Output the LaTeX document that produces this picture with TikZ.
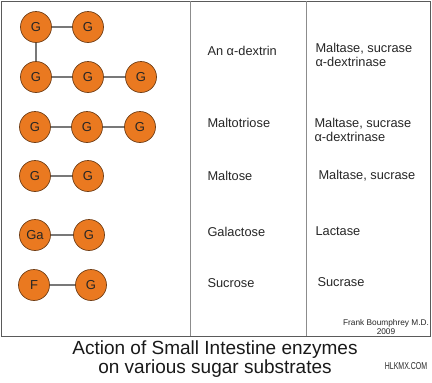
\documentclass[tikz,border=0pt]{standalone}
\usepackage{fontspec}
\setmainfont{Liberation Sans}
\usepackage{tikz}
\usetikzlibrary{positioning}

\definecolor{sugarfill}{RGB}{234,121,32}
\definecolor{sugarrim}{RGB}{112,62,22}
\definecolor{bondgray}{RGB}{120,120,120}
\definecolor{framegray}{RGB}{90,90,90}
\definecolor{rulegray}{RGB}{140,140,140}

\begin{document}
\begin{tikzpicture}[x=1pt,y=-1pt,node distance=52pt,on grid,
    sugar/.style={circle,draw=sugarrim,line width=0.7pt,fill=sugarfill,
      minimum size=31pt,inner sep=0pt,font=\fontsize{13}{13}\selectfont,text=black!85},
    bond/.style={draw=bondgray,line width=1.1pt},
    label/.style={anchor=west,align=left,font=\fontsize{12.8}{14.5}\selectfont,text=black!85}]
   \useasboundingbox (0,0) rectangle (432,383);
   % table frame
   \draw[framegray,line width=0.9pt] (1,1) rectangle (430,336);
   \draw[rulegray,line width=0.9pt] (190,1) -- (190,336);
   \draw[rulegray,line width=0.9pt] (306,1) -- (306,336);
   % sugar chains
   \node[sugar] (a1) at (36,27) {G};
   \node[sugar] (a2) [right=of a1] {G};
   \node[sugar] (b1) at (36,77) {G};
   \node[sugar] (b2) [right=of b1] {G};
   \node[sugar] (b3) [right=53pt of b2] {G};
   \node[sugar] (c1) at (35,127) {G};
   \node[sugar] (c2) [right=of c1] {G};
   \node[sugar] (c3) [right=53pt of c2] {G};
   \node[sugar] (d1) at (35,176) {G};
   \node[sugar] (d2) [right=53pt of d1] {G};
   \node[sugar] (e1) at (35,235) {Ga};
   \node[sugar] (e2) [right=54pt of e1] {G};
   \node[sugar] (f1) at (34,285) {F};
   \node[sugar] (f2) [right=57pt of f1] {G};
   \path[bond]
    (a1) -- (a2)  (a1) -- (b1)
    (b1) -- (b2)  (b2) -- (b3)
    (c1) -- (c2)  (c2) -- (c3)
    (d1) -- (d2)
    (e1) -- (e2)
    (f1) -- (f2);
   % substrate names
   \node[label] (s1) at (204,51) {An α-dextrin};
   \node[label] (s2) at (204,123) {Maltotriose};
   \node[label] (s3) at (204,176) {Maltose};
   \node[label] (s4) at (204,232) {Galactose};
   \node[label] (s5) at (204,283) {Sucrose};
   % enzymes
   \node[label] (z1) at (312,55) {Maltase, sucrase\\α-dextrinase};
   \node[label] (z2) at (311,130) {Maltase, sucrase\\α-dextrinase};
   \node[label] (z3) at (315,176) {Maltase, sucrase};
   \node[label] (z4) at (312,231) {Lactase};
   \node[label] (z5) at (314,282) {Sucrase};
   \node[align=center,font=\fontsize{8.3}{9.3}\selectfont,text=black!85]
     (credit) at (386,327) {Frank Boumphrey M.D.\\2009};
   % caption
   \node[align=center,font=\fontsize{19}{18.5}\selectfont,text=black!90]
     (title) at (215,359) {Action of Small Intestine enzymes\\on various sugar substrates};
   \node[font=\fontsize{10}{10}\selectfont,xscale=0.7,text=black!85]
     (mark) at (406,366) {HLKMX.COM};
\end{tikzpicture}
\end{document}
